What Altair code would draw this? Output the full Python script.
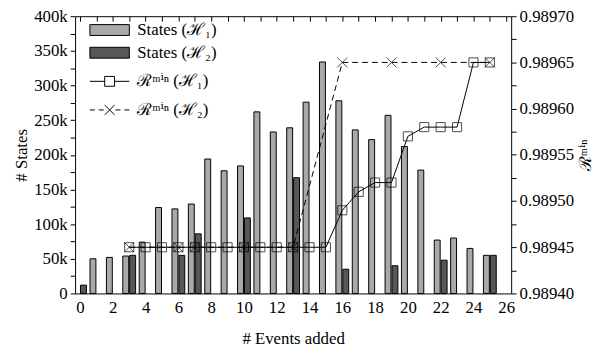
import altair as alt
import pandas as pd

SERIF = "Liberation Serif, Times New Roman, DejaVu Serif, serif"

# ---- data ----
events_h1 = [1, 2, 3, 4, 5, 6, 7, 8, 9, 10, 11, 12, 13, 14, 15, 16, 17, 18, 19, 20, 21, 22, 23, 24, 25]
states_h1_k = [50, 52, 54, 74, 124, 122, 129, 194, 177, 184, 262, 233, 239, 276, 334, 278, 236, 222, 257, 212, 178, 77, 80, 65, 55]
events_h2 = [0, 3, 6, 7, 10, 13, 16, 19, 22, 25]
states_h2_k = [12, 55, 55, 86, 109, 167, 35, 40, 48, 55]

r_events_h1 = [3, 4, 5, 6, 7, 8, 9, 10, 11, 12, 13, 14, 15, 16, 17, 18, 19, 20, 21, 22, 23, 24, 25]
r_h1 = [0.98945, 0.98945, 0.98945, 0.98945, 0.98945, 0.98945, 0.98945, 0.98945, 0.98945, 0.98945,
        0.98945, 0.98945, 0.98945, 0.98949, 0.98951, 0.98952, 0.98952, 0.98957, 0.98958, 0.98958,
        0.98958, 0.98965, 0.98965]
r_events_h2 = [3, 6, 7, 10, 13, 16, 19, 22, 25]
r_h2 = [0.98945, 0.98945, 0.98945, 0.98945, 0.98945, 0.98965, 0.98965, 0.98965, 0.98965]

LBL_S1 = "States (ℋ₁)"
LBL_S2 = "States (ℋ₂)"
LBL_R1 = "ℛᵐⁱⁿ (ℋ₁)"
LBL_R2 = "ℛᵐⁱⁿ (ℋ₂)"

x_label_ticks = [0, 2, 4, 6, 8, 10, 12, 14, 16, 18, 20, 22, 24, 26]
x_all_ticks = [0, 1, 2, 3, 4, 5, 6, 7, 8, 9, 10, 11, 12, 13, 14, 15, 16, 17, 18, 19, 20, 21, 22, 23, 24, 25, 26]
y_left_ticks = [0, 25000, 50000, 75000, 100000, 125000, 150000, 175000, 200000, 225000, 250000,
                275000, 300000, 325000, 350000, 375000, 400000]
y_right_ticks = [0.98940, 0.989425, 0.98945, 0.989475, 0.98950, 0.989525, 0.98955, 0.989575,
                 0.98960, 0.989625, 0.98965, 0.989675, 0.98970]

df_h1 = pd.DataFrame({"event": events_h1, "states": [v * 1000 for v in states_h1_k], "series": LBL_S1})
df_h2 = pd.DataFrame({"event": events_h2, "states": [v * 1000 for v in states_h2_k], "series": LBL_S2})
df_r1 = pd.DataFrame({"event": r_events_h1, "r": r_h1, "series": LBL_R1})
df_r2 = pd.DataFrame({"event": r_events_h2, "r": r_h2, "series": LBL_R2})

xscale = alt.Scale(domain=[0, 26], nice=False, zero=False)
yscale_l = alt.Scale(domain=[0, 400000], nice=False)
yscale_r = alt.Scale(domain=[0.98940, 0.98970], nice=False, zero=False)

AX_FONT = dict(labelFont=SERIF, titleFont=SERIF, labelFontSize=17, titleFontSize=17,
               titleFontWeight="normal", labelColor="black", titleColor="black",
               tickColor="black", labelOverlap=False, labelLimit=300, domain=False, grid=False)

fill_scale = alt.Scale(domain=[LBL_S1, LBL_S2], range=["#a9a9a9", "#575757"])
RECT_PATH = "M-4,-1.1H4V1.1H-4Z"
fill_legend = alt.Legend(title=None, orient="none", legendX=26.5, legendY=5.5,
                         symbolType=RECT_PATH, symbolSize=100, symbolStrokeColor="black",
                         symbolStrokeWidth=1, labelOffset=19.5, rowPadding=5, padding=0,
                         labelFont=SERIF, labelFontSize=17, labelLimit=300)

left_axis = alt.Axis(orient="left", values=y_left_ticks,
                     labelExpr="datum.value % 50000 == 0 ? (datum.value == 0 ? '0' : (datum.value/1000) + 'k') : ''",
                     tickSize=5, labelPadding=3, title="# States", titlePadding=3, **AX_FONT)
bottom_axis = alt.Axis(orient="bottom", values=x_label_ticks, ticks=False, labelPadding=6,
                       title="# Events added", titlePadding=16, **AX_FONT)

bar_h1 = alt.Chart(df_h1).mark_bar(width=6, xOffset=-3.5, stroke="black", strokeWidth=1).encode(
    x=alt.X("event:Q", scale=xscale, axis=bottom_axis),
    y=alt.Y("states:Q", scale=yscale_l, axis=left_axis),
    fill=alt.Fill("series:N", scale=fill_scale, legend=fill_legend),
)
bar_h2 = alt.Chart(df_h2).mark_bar(width=6, xOffset=3.5, stroke="black", strokeWidth=1).encode(
    x=alt.X("event:Q", scale=xscale, axis=bottom_axis),
    y=alt.Y("states:Q", scale=yscale_l, axis=left_axis),
    fill=alt.Fill("series:N", scale=fill_scale, legend=fill_legend),
)
left_group = alt.layer(bar_h1, bar_h2)

right_axis = alt.Axis(orient="right", values=y_right_ticks,
                      labelExpr="round(datum.value*1e6) % 50 == 0 ? format(datum.value, '.5f') : ''",
                      tickSize=5, labelPadding=3, title="ℛᵐⁱⁿ", titlePadding=4,
                      titleAngle=270, titleBaseline="top", **AX_FONT)
top_axis = alt.Axis(orient="top", values=x_all_ticks, labels=False, ticks=True, tickSize=5,
                    offset=-5, title=None, domain=False, grid=False, tickColor="black")

X_PATH = "M-1,-1L1,1M-1,1L1,-1"
line_h1 = alt.Chart(df_r1).mark_line(color="black", strokeWidth=1).encode(
    x=alt.X("event:Q", scale=xscale, axis=top_axis),
    y=alt.Y("r:Q", scale=yscale_r, axis=right_axis),
)
pts_h1 = alt.Chart(df_r1).mark_point(shape="square", size=85, filled=False, color="black",
                                     strokeWidth=1).encode(
    x=alt.X("event:Q", scale=xscale, axis=top_axis),
    y=alt.Y("r:Q", scale=yscale_r, axis=right_axis),
)
line_h2 = alt.Chart(df_r2).mark_line(color="black", strokeWidth=1, strokeDash=[6, 4]).encode(
    x=alt.X("event:Q", scale=xscale, axis=top_axis),
    y=alt.Y("r:Q", scale=yscale_r, axis=right_axis),
)
pts_h2 = alt.Chart(df_r2).mark_point(shape=X_PATH, size=100, filled=False, color="black",
                                     strokeWidth=1).encode(
    x=alt.X("event:Q", scale=xscale, axis=top_axis),
    y=alt.Y("r:Q", scale=yscale_r, axis=right_axis),
)

SQ_LEG = "M-4,0H-1M1,0H4M-1,-1H1V1H-1Z"
X_LEG = "M-4,0H-3M-2.2,0H-1.2M1.2,0H2.2M3,0H4M-1,-1L1,1M-1,1L1,-1"
shape_legend = alt.Legend(title=None, orient="none", legendX=26.5, legendY=57.5,
                          symbolSize=100, symbolStrokeColor="black", symbolStrokeWidth=1,
                          symbolFillColor="transparent", symbolOpacity=1, labelOffset=19.5,
                          rowPadding=11, padding=0, labelFont=SERIF, labelFontSize=17, labelLimit=300)
legend_layer = alt.Chart(pd.concat([df_r1, df_r2])).mark_point(
    filled=False, color="black", strokeWidth=1, opacity=0).encode(
    x=alt.X("event:Q", scale=xscale, axis=top_axis),
    y=alt.Y("r:Q", scale=yscale_r, axis=right_axis),
    shape=alt.Shape("series:N", scale=alt.Scale(domain=[LBL_R1, LBL_R2], range=[SQ_LEG, X_LEG]),
                    legend=shape_legend),
)
right_group = alt.layer(line_h1, line_h2, pts_h1, pts_h2, legend_layer)

chart = alt.layer(left_group, right_group).resolve_scale(y="independent").resolve_axis(
    x="independent"
).properties(
    width=442, height=281, autosize="none",
    padding={"left": 68, "top": 6, "right": 87, "bottom": 57},
).configure(font=SERIF).configure_view(stroke="black", strokeWidth=1).configure_axis(
    labelFont=SERIF, titleFont=SERIF, labelOverlap=False,
)

chart.save("out.html", embed_options={"renderer": "svg", "actions": False})
